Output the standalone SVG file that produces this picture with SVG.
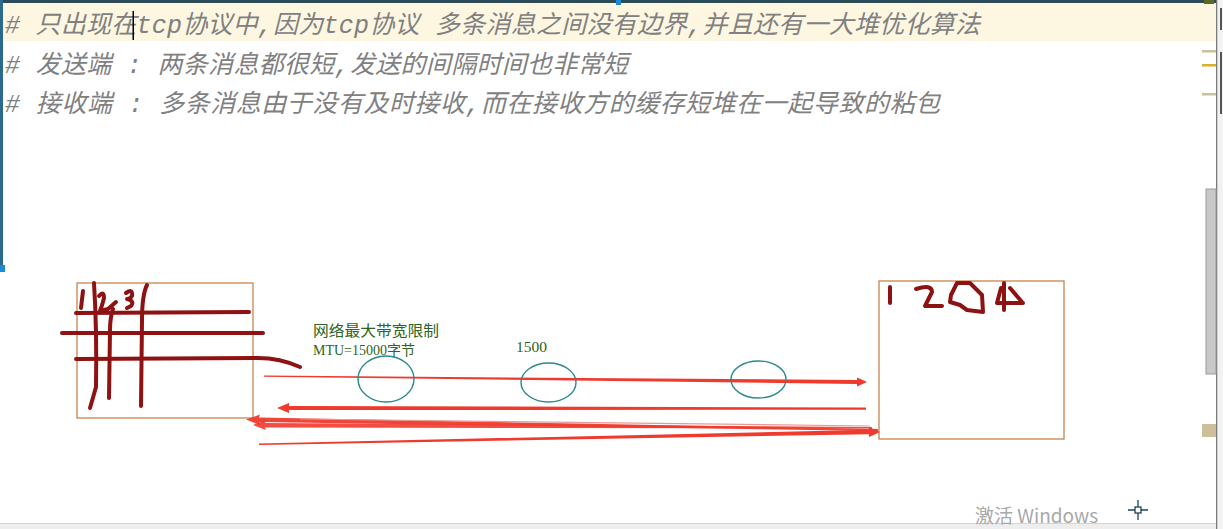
<svg xmlns="http://www.w3.org/2000/svg" width="1223" height="529" viewBox="0 0 1223 529">
<style>
.code{font-family:"Liberation Mono","Noto Sans CJK SC",monospace;font-size:25px;font-style:italic;fill:#808080}
.lbl{font-family:"Liberation Serif","Noto Sans CJK SC",serif;fill:#2e6420}
.box{fill:none;stroke:#c47a40;stroke-width:1.2}
.ink{fill:none;stroke:#8e1212;stroke-width:4;stroke-linecap:round;stroke-linejoin:round}
.ell{fill:none;stroke:#2a8a8c;stroke-width:1.4}
.red{fill:#ef3a2e}
.mk{fill:#cdbf9c}
</style>
<rect x="0" y="0" width="1223" height="529" fill="#ffffff"/>
<rect x="0" y="3" width="1216" height="38" fill="#fdf7e2"/>
<rect x="0" y="0" width="1223" height="3" fill="#2d4b57"/>
<rect x="616" y="0" width="5" height="5" fill="#1b8ad6"/>
<rect x="1204" y="0" width="10" height="4" fill="#5b6a22"/>
<rect x="0" y="0" width="3" height="270" fill="#2b6a8e"/>
<rect x="0" y="265" width="5" height="7" fill="#1b8ad6"/>
<rect x="1216" y="0" width="7" height="529" fill="#f2f2f2"/>
<rect x="1216" y="0" width="1.3" height="529" fill="#7a7a7a"/>
<rect x="1206" y="189" width="10" height="185" fill="#c8c8c8" stroke="#9a9a9a" stroke-width="1"/>
<rect x="1202" y="50" width="14" height="2.5" class="mk"/>
<rect x="1202" y="64" width="14" height="2.5" fill="#d8b02a"/>
<rect x="1202" y="93" width="14" height="2.5" class="mk"/>
<rect x="1202" y="424" width="14" height="13" class="mk"/>
<rect x="1220" y="8" width="2" height="22" fill="#555"/>
<rect x="1220" y="52" width="2" height="62" fill="#555"/>
<rect x="0" y="523" width="1216" height="6" fill="#eeeeee"/>
<rect x="0" y="523" width="1216" height="1" fill="#d4d4d4"/>

<g id="code-text">
<text class="code" x="5" y="33" textLength="975" lengthAdjust="spacing"># 只出现在tcp协议中,因为tcp协议 多条消息之间没有边界,并且还有一大堆优化算法</text>
<text class="code" x="5" y="73" textLength="623" lengthAdjust="spacing"># 发送端 : 两条消息都很短,发送的间隔时间也非常短</text>
<text class="code" x="5" y="112" textLength="935" lengthAdjust="spacing"># 接收端 : 多条消息由于没有及时接收,而在接收方的缓存短堆在一起导致的粘包</text>
</g>
<rect x="132.5" y="11" width="1.5" height="29" fill="#000"/>

<g id="sender">
<rect class="box" x="77" y="283" width="176" height="135"/>
<path class="ink" d="M76,313 L249,312"/>
<path class="ink" d="M62,333 L263,333"/>
<path class="ink" d="M76,359 L258,358 Q280,358 300,367"/>
<path class="ink" d="M94,283 Q97,330 96,387 L90,408"/>
<path class="ink" d="M83,291 L81,308"/>
<path class="ink" d="M99,296 Q104,290 104,298 Q102,306 100,311 L108,309 L116,302"/>
<path class="ink" d="M113,309 Q110,318 110,330 L109,398"/>
<path class="ink" d="M126,293 Q133,288 132,296 Q130,299 127,299 Q135,301 131,306 L127,308"/>
<path class="ink" d="M147,285 Q142,295 142,320 L141,406"/>
</g>

<g id="receiver">
<rect class="box" x="879" y="281" width="185" height="158"/>
<path class="ink" d="M890,287 L890,303"/>
<path class="ink" d="M916,289 Q932,284 932,292 L925,306 L942,306"/>
<path class="ink" d="M957,283 L970,283 L982,295 L983,312 L967,310 L960,305 L950,302 L951,295 Z"/>
<path class="ink" d="M1001,288 L997,303 L1023,303 M1010,288 L1022,302 M1004,283 L1004,310"/>
</g>

<g id="labels">
<text class="lbl" x="313" y="336" font-size="15" textLength="126" lengthAdjust="spacingAndGlyphs">网络最大带宽限制</text>
<text class="lbl" x="313" y="355" font-size="14" textLength="102" lengthAdjust="spacingAndGlyphs">MTU=15000字节</text>
<text class="lbl" x="516" y="352" font-size="14" textLength="31" lengthAdjust="spacingAndGlyphs">1500</text>
</g>

<g id="connectors">
<path class="red" d="M264,375.6 L857,380 L857,377.5 L867,382 L857,386.5 L857,384 L264,376.8 Z"/>
<path class="red" d="M866,407.5 L289,406 L289,403 L277,408 L289,413 L289,410 L866,409.8 Z"/>
<path class="red" d="M878,429 L259,417.5 L260,414.5 L246,419.5 L260,425 L259,422 L878,431 Z" opacity="0.95"/>
<path class="red" d="M872,427 L265,423 L266,420 L253,425 L266,430 L265,427.5 L872,428.5 Z" opacity="0.9"/>
<path d="M870,426 L300,419" stroke="#e89a94" stroke-width="1.2" fill="none"/>
<path class="red" d="M259,443.5 L869,429.8 L869,427 L880,432 L869,437 L869,434.2 L259,445 Z"/>
</g>

<g id="ellipses">
<ellipse class="ell" cx="386" cy="379" rx="28" ry="23"/>
<ellipse class="ell" cx="548.5" cy="382.5" rx="27.5" ry="19.5"/>
<ellipse class="ell" cx="758.5" cy="379.5" rx="27.5" ry="18.5"/>
</g>

<g id="overlay">
<text x="975" y="523" font-family="'Noto Sans CJK SC','Noto Sans',sans-serif" font-size="19" fill="#a8a8a8">激活 Windows</text>
<g stroke="#1d4555" stroke-width="1.3" fill="none">
<path d="M1128,510 L1148,510 M1138,500 L1138,520"/>
<rect x="1135" y="507" width="6" height="6" fill="#ffffff"/>
</g>
</g>
</svg>
